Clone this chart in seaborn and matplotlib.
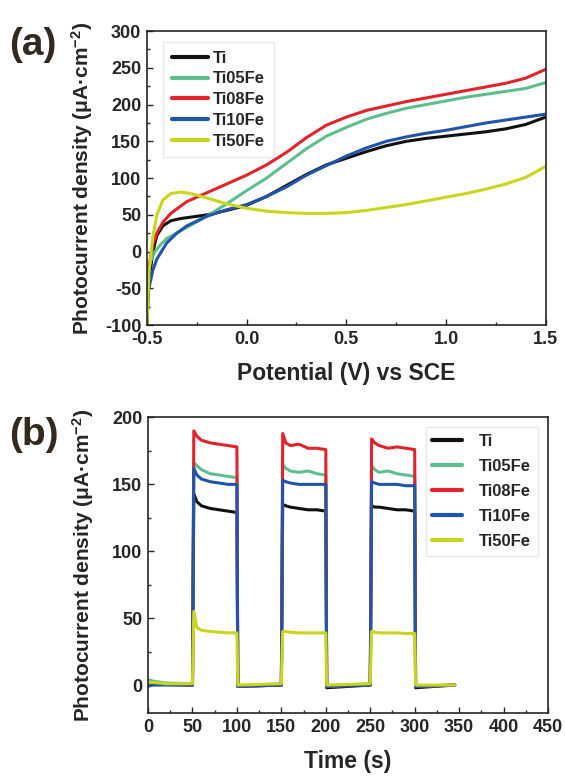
import numpy as np
import pandas as pd
import matplotlib
matplotlib.use("Agg")
import matplotlib.pyplot as plt
from matplotlib.ticker import MultipleLocator
import seaborn as sns

# data
samples = ["Ti", "Ti05Fe", "Ti08Fe", "Ti10Fe", "Ti50Fe"]
colors = ["#111111", "#5dbf8e", "#e3232b", "#2354ad", "#c9d61c"]

# (a) photocurrent vs potential
pot_ti = [-0.5, -0.49, -0.47, -0.45, -0.42, -0.38, -0.33, -0.25, -0.2, -0.1, 0.0, 0.1, 0.2, 0.3,
          0.4, 0.5, 0.6, 0.7, 0.8, 0.9, 1.0, 1.1, 1.2, 1.3, 1.4, 1.5]
j_ti = [-100, -40, 0, 22, 35, 42, 45, 48, 50, 56, 63, 75, 90, 105,
        118, 127, 136, 144, 150, 154, 157, 160, 163, 167, 173, 183]

pot_05 = [-0.5, -0.48, -0.46, -0.43, -0.4, -0.3, -0.2, -0.1, 0.0, 0.1, 0.2, 0.3,
          0.4, 0.5, 0.6, 0.7, 0.8, 0.9, 1.0, 1.1, 1.2, 1.3, 1.4, 1.5]
j_05 = [-28, -12, 0, 10, 18, 33, 48, 65, 83, 100, 120, 140,
        157, 169, 180, 188, 195, 200, 205, 210, 214, 218, 222, 230]

pot_08 = [-0.5, -0.49, -0.47, -0.45, -0.42, -0.38, -0.33, -0.3, -0.2, -0.1, 0.0, 0.1, 0.2, 0.3,
          0.4, 0.5, 0.6, 0.7, 0.8, 0.9, 1.0, 1.1, 1.2, 1.3, 1.4, 1.5]
j_08 = [-65, -20, 10, 25, 40, 52, 62, 68, 80, 92, 104, 118, 135, 155,
        172, 183, 192, 198, 204, 209, 214, 219, 224, 229, 236, 248]

pot_10 = [-0.5, -0.49, -0.47, -0.45, -0.4, -0.35, -0.3, -0.2, -0.1, 0.0, 0.1, 0.2, 0.3,
          0.4, 0.5, 0.6, 0.7, 0.8, 0.9, 1.0, 1.1, 1.2, 1.3, 1.4, 1.5]
j_10 = [-70, -50, -25, -10, 12, 25, 35, 48, 57, 64, 75, 88, 104,
        117, 130, 141, 150, 156, 161, 165, 170, 175, 179, 183, 187]

pot_50 = [-0.5, -0.49, -0.47, -0.45, -0.42, -0.38, -0.33, -0.28, -0.2, -0.1, 0.0, 0.1, 0.2, 0.3,
          0.4, 0.5, 0.6, 0.7, 0.8, 0.9, 1.0, 1.1, 1.2, 1.3, 1.4, 1.5]
j_50 = [-100, -30, 20, 50, 70, 79, 81, 79, 73, 65, 59, 55, 53, 52,
        52, 53, 56, 60, 64, 69, 74, 79, 85, 92, 101, 116]

# (b) chopped-light transients
time_s = [0, 5, 20, 50, 51.5, 55, 60, 70, 80, 90, 100, 101, 150, 151.5, 155, 160, 170, 180,
          190, 200, 201, 250, 251.5, 255, 260, 270, 280, 290, 300, 301, 345]
i_ti = [0.5, 1, 0.5, 0, 143, 137, 134, 132, 131, 130, 129, -1, 0, 135, 134, 133, 132, 131,
        131, 130, -2, 0, 134, 133, 133, 132, 131, 131, 130, -2, 0]
i_05 = [4, 3, 1.5, 1, 166, 164, 161, 158, 157, 156, 155, -1, 1, 165, 162, 160, 159, 160,
        158, 157, -1, 1, 164, 161, 159, 160, 158, 157, 156, -1, 0]
i_08 = [1, 1, 0.5, 0, 190, 186, 183, 181, 180, 179, 178, -1, 0, 188, 181, 179, 180, 177,
        177, 176, -1, 0, 184, 181, 179, 177, 178, 177, 176, -1, 0]
i_10 = [-1, 0, 0, 0, 162, 157, 154, 152, 151, 150, 150, -1, 0, 153, 152, 151, 150, 150,
        150, 150, -1, 0, 152, 151, 150, 150, 150, 149, 149, -1, 0]
i_50 = [2, 2, 1, 1, 55, 43, 41, 40, 39.5, 39, 39, 0, 1, 40, 40, 39.5, 39, 39,
        39, 39, 0, 1, 40, 39.5, 39, 39, 39, 38.5, 38.5, 0, 0]

sns.set_style("ticks")
plt.rcParams["font.family"] = ["Liberation Sans", "DejaVu Sans"]
plt.rcParams["font.weight"] = "bold"
plt.rcParams["axes.labelweight"] = "bold"
plt.rcParams["axes.unicode_minus"] = False
plt.rcParams["mathtext.fontset"] = "custom"
plt.rcParams["mathtext.rm"] = "Liberation Sans:bold"
plt.rcParams["mathtext.default"] = "rm"

frames_a = []
for name, x, y in zip(samples, [pot_ti, pot_05, pot_08, pot_10, pot_50], [j_ti, j_05, j_08, j_10, j_50]):
    frames_a.append(pd.DataFrame({"E": x, "J": y, "sample": name}))
df_a = pd.concat(frames_a, ignore_index=True)

frames_b = []
for name, y in zip(samples, [i_ti, i_05, i_08, i_10, i_50]):
    frames_b.append(pd.DataFrame({"t": time_s, "J": y, "sample": name}))
df_b = pd.concat(frames_b, ignore_index=True)

fig = plt.figure(figsize=(5.65, 7.76), dpi=100)
ax1 = fig.add_axes([0.260, 0.581, 0.706, 0.379])
ax2 = fig.add_axes([0.262, 0.081, 0.708, 0.381])

pal = dict(zip(samples, colors))
sns.lineplot(data=df_a, x="E", y="J", hue="sample", palette=pal, hue_order=samples,
             sort=False, estimator=None, lw=2.2, ax=ax1)
sns.lineplot(data=df_b, x="t", y="J", hue="sample", palette=pal, hue_order=samples,
             sort=False, estimator=None, lw=2.2, ax=ax2)

ylab = "Photocurrent density (μA·cm$^{-2}$)"
ax1.set_xlim(-0.5, 1.5)
ax1.set_ylim(-100, 300)
ax1.xaxis.set_major_locator(MultipleLocator(0.5))
ax1.xaxis.set_minor_locator(MultipleLocator(0.25))
ax1.yaxis.set_major_locator(MultipleLocator(50))
ax1.yaxis.set_minor_locator(MultipleLocator(25))
ax1.set_xlabel("Potential (V) vs SCE", fontsize=16.5, labelpad=10)
ax1.set_ylabel(ylab, fontsize=15)

ax2.set_xlim(0, 450)
ax2.set_ylim(-21, 200)
ax2.xaxis.set_major_locator(MultipleLocator(50))
ax2.xaxis.set_minor_locator(MultipleLocator(25))
ax2.yaxis.set_major_locator(MultipleLocator(50))
ax2.yaxis.set_minor_locator(MultipleLocator(25))
ax2.set_xlabel("Time (s)", fontsize=16.5, labelpad=10)
ax2.set_ylabel(ylab, fontsize=15)

for ax in (ax1, ax2):
    for s in ax.spines.values():
        s.set_linewidth(1.2)
        s.set_visible(True)
    ax.tick_params(which="major", direction="in", length=4, width=1, labelsize=13, pad=4)
    ax.tick_params(which="minor", direction="in", length=2.5, width=1)
    ax.yaxis.set_label_coords(-0.13, 0.5)

ax1.legend(loc="upper left", bbox_to_anchor=(0.02, 0.99), fontsize=12, frameon=True,
           fancybox=False, edgecolor="#e4e4e4", labelspacing=0.35, handlelength=2.2,
           handletextpad=0.3, borderpad=0.5)
ax2.legend(loc="upper right", bbox_to_anchor=(0.995, 0.995), fontsize=12, frameon=True,
           fancybox=False, edgecolor="#e4e4e4", labelspacing=0.6, handlelength=1.8,
           handletextpad=1.0, borderpad=0.4)
for lg in (ax1.get_legend(), ax2.get_legend()):
    for ln in lg.get_lines():
        ln.set_linewidth(3)

fig.text(0.016, 0.942, "(a)", fontsize=28, fontweight="bold", color="#33291f", va="center")
fig.text(0.016, 0.439, "(b)", fontsize=28, fontweight="bold", color="#33291f", va="center")

fig.savefig("out.png", dpi=100)
